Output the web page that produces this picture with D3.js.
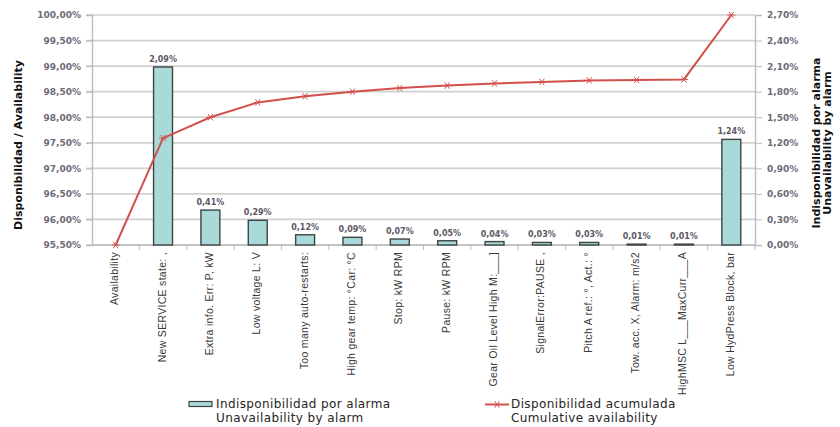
<!DOCTYPE html>
<html>
<head>
<meta charset="utf-8">
<script src="https://cdn.jsdelivr.net/npm/d3@7/dist/d3.min.js"></script>
<style>
  html, body { margin: 0; padding: 0; background: #ffffff; }
  svg { display: block; }
</style>
</head>
<body>
<svg id="chart" width="840" height="427"></svg>
<script>
// Alarm categories (Pareto order)
const categories = [
  "Availability",
  "New SERVICE state: ,",
  "Extra info. Err: P, kW",
  "Low voltage L: V",
  "Too many auto-restarts:",
  "High gear temp: °Car: °C",
  "Stop: kW RPM",
  "Pause: kW RPM",
  "Gear Oil Level High M:___]",
  "SignalError:PAUSE ,",
  "Pitch A ref.: °, Act.: °",
  "Tow. acc. X, Alarm: m/s2",
  "HighMSC L___MaxCurr___A",
  "Low HydPress Block, bar"
];
// Unavailability per alarm (%), right axis; null = no bar
const unavailability = [null, 2.09, 0.41, 0.29, 0.12, 0.09, 0.07, 0.05, 0.04, 0.03, 0.03, 0.01, 0.01, 1.24];
const barLabels = [null, "2,09%", "0,41%", "0,29%", "0,12%", "0,09%", "0,07%", "0,05%", "0,04%", "0,03%", "0,03%", "0,01%", "0,01%", "1,24%"];
// Cumulative availability (%), left axis
const cumulative = [95.50, 97.59, 98.00, 98.29, 98.41, 98.50, 98.57, 98.62, 98.66, 98.69, 98.72, 98.73, 98.74, 100.00];
// Axis ticks
const leftTicks = [95.5, 96.0, 96.5, 97.0, 97.5, 98.0, 98.5, 99.0, 99.5, 100.0];
const rightTicks = [0, 0.3, 0.6, 0.9, 1.2, 1.5, 1.8, 2.1, 2.4, 2.7];
// Legend entries (two lines each)
const legendBar = ["Indisponibilidad por alarma", "Unavailability by alarm"];
const legendLine = ["Disponibilidad acumulada", "Cumulative availability"];

const svg = d3.select("#chart");
const plot = { left: 92, right: 755, top: 15, bottom: 245 };

const fmt = v => d3.format(".2f")(v).replace(".", ",") + "%";

const x = d3.scaleBand().domain(categories).range([plot.left, plot.right]).padding(0);
const yL = d3.scaleLinear().domain([95.5, 100]).range([plot.bottom, plot.top]);
const yR = d3.scaleLinear().domain([0, 2.7]).range([plot.bottom, plot.top]);

// Horizontal gridlines
svg.append("g").selectAll("line").data(leftTicks).join("line")
  .attr("x1", plot.left - 6).attr("x2", plot.right)
  .attr("y1", d => yL(d)).attr("y2", d => yL(d))
  .attr("stroke", "#d0d0d0").attr("stroke-width", 1.7);

// Left axis
const axL = svg.append("g").attr("transform", `translate(${plot.left},0)`)
  .call(d3.axisLeft(yL).tickValues(leftTicks).tickFormat(fmt).tickSize(6).tickPadding(5));
axL.select(".domain").attr("stroke", "#bbbbbb").attr("stroke-width", 1.4);
axL.selectAll(".tick line").attr("stroke", "#bbbbbb");
axL.selectAll("text").attr("font-family", "DejaVu Sans, Verdana, sans-serif")
  .attr("font-weight", "bold").attr("font-size", 9).attr("fill", "#6e6a78");

// Right axis
const axR = svg.append("g").attr("transform", `translate(${plot.right},0)`)
  .call(d3.axisRight(yR).tickValues(rightTicks).tickFormat(fmt).tickSize(7).tickPadding(5));
axR.select(".domain").attr("stroke", "#bbbbbb").attr("stroke-width", 1.4);
axR.selectAll(".tick line").attr("stroke", "#bbbbbb");
axR.selectAll("text").attr("font-family", "DejaVu Sans, Verdana, sans-serif")
  .attr("font-weight", "bold").attr("font-size", 9).attr("fill", "#6e6a78");

// Bottom axis: category ticks between bands, rotated labels
const axB = svg.append("g").attr("transform", `translate(0,${plot.bottom})`);
axB.append("line").attr("x1", plot.left).attr("x2", plot.right)
  .attr("stroke", "#bbbbbb").attr("stroke-width", 1.4);
axB.selectAll("line.sep").data(categories).join("line").attr("class", "sep")
  .attr("x1", d => x(d) + x.bandwidth()).attr("x2", d => x(d) + x.bandwidth())
  .attr("y1", 0).attr("y2", 5).attr("stroke", "#bbbbbb");
axB.selectAll("text").data(categories).join("text")
  .attr("transform", d => `translate(${x(d) + x.bandwidth() / 2 + 2.5},7) rotate(-90)`)
  .attr("text-anchor", "end")
  .attr("font-family", "Liberation Sans, Arial, sans-serif")
  .attr("font-size", 10.5).attr("letter-spacing", 0.3).attr("fill", "#3a3a3a")
  .text(d => d);

// Bars (right axis)
const barW = x.bandwidth() * 0.4;
const barData = categories.map((c, i) => ({ c, v: unavailability[i], label: barLabels[i] })).filter(d => d.v != null);
svg.append("g").selectAll("rect").data(barData).join("rect")
  .attr("x", d => x(d.c) + (x.bandwidth() - barW) / 2)
  .attr("y", d => yR(d.v))
  .attr("width", barW)
  .attr("height", d => yR(0) - yR(d.v))
  .attr("fill", "#a9d9d8").attr("stroke", "#3d4444").attr("stroke-width", 1.4);

svg.append("g").selectAll("text").data(barData).join("text")
  .attr("x", d => x(d.c) + x.bandwidth() / 2)
  .attr("y", d => yR(d.v) - 5)
  .attr("text-anchor", "middle")
  .attr("font-family", "DejaVu Sans, Verdana, sans-serif")
  .attr("font-weight", "bold").attr("font-size", 8).attr("fill", "#5c5866")
  .text(d => d.label);

// Cumulative line (left axis)
const pts = categories.map((c, i) => [x(c) + x.bandwidth() / 2, yL(cumulative[i])]);
svg.append("path").datum(pts)
  .attr("d", d3.line())
  .attr("fill", "none").attr("stroke", "#d2504c").attr("stroke-width", 2);

// Asterisk markers made of three short strokes
const asterisk = "M-4,0L4,0M-2.4,-3.2L2.4,3.2M-2.4,3.2L2.4,-3.2";
svg.append("g").selectAll("path").data(pts).join("path")
  .attr("transform", d => `translate(${d[0]},${d[1]})`)
  .attr("d", asterisk)
  .attr("fill", "none").attr("stroke", "#d2504c").attr("stroke-width", 1);

// Axis titles
svg.append("text")
  .attr("transform", `translate(22,${(plot.top + plot.bottom) / 2 + 15}) rotate(-90)`)
  .attr("text-anchor", "middle")
  .attr("font-family", "DejaVu Sans, Verdana, sans-serif")
  .attr("font-weight", "bold").attr("font-size", 11).attr("fill", "#111")
  .text("Disponibilidad / Availability");

const rt = svg.append("text")
  .attr("transform", `translate(820,${(plot.top + plot.bottom) / 2 + 13}) rotate(-90)`)
  .attr("text-anchor", "middle")
  .attr("font-family", "DejaVu Sans, Verdana, sans-serif")
  .attr("font-weight", "bold").attr("font-size", 11).attr("fill", "#111");
rt.append("tspan").attr("x", 0).attr("dy", 0).text("Indisponibilidad por alarma");
rt.append("tspan").attr("x", 0).attr("dy", 11).text("Unavailability by alarm");

// Legend
const lg = svg.append("g").attr("font-family", "DejaVu Sans, Verdana, sans-serif")
  .attr("font-size", 12).attr("letter-spacing", 0.4).attr("fill", "#262626");
lg.append("rect").attr("x", 189).attr("y", 401.5).attr("width", 23).attr("height", 5)
  .attr("fill", "#a9d9d8").attr("stroke", "#3d4444").attr("stroke-width", 1.2);
lg.selectAll("text.lb").data(legendBar).join("text").attr("class", "lb")
  .attr("x", 216).attr("y", (d, i) => 408 + i * 14).text(d => d);

lg.append("line").attr("x1", 485).attr("x2", 509).attr("y1", 404.5).attr("y2", 404.5)
  .attr("stroke", "#d2504c").attr("stroke-width", 2);
lg.append("path").attr("transform", "translate(497,404.5)")
  .attr("d", asterisk)
  .attr("fill", "none").attr("stroke", "#d2504c").attr("stroke-width", 1);
lg.selectAll("text.ll").data(legendLine).join("text").attr("class", "ll")
  .attr("x", 511).attr("y", (d, i) => 408 + i * 14).text(d => d);
</script>
</body>
</html>
